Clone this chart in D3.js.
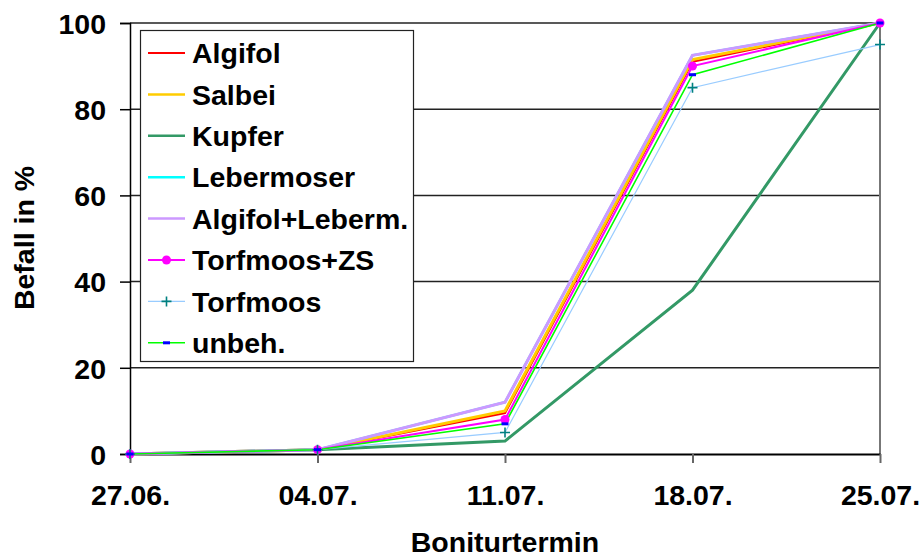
<!DOCTYPE html>
<html>
<head>
<meta charset="utf-8">
<script src="https://cdn.jsdelivr.net/npm/d3@7"></script>
<style>
  body { margin: 0; background: #fff; }
  svg { display: block; font-family: "Liberation Sans", Arial, sans-serif; font-weight: bold; }
</style>
</head>
<body>
<svg id="chart" width="922" height="558"></svg>
<script>
// Boniturtermine (x axis)
const dates = ["27.06.", "04.07.", "11.07.", "18.07.", "25.07."];
const yTicks = [0, 20, 40, 60, 80, 100];

// Befall in % per Variante
const algifol       = [0, 1, 9.5, 91, 100];
const salbei        = [0, 1, 10, 91.5, 100];
const kupfer        = [0, 1, 3, 38, 100];
const lebermoser    = [0, 1, 12, 92.5, 100];
const algifolLeberm = [0, 1, 12, 92.5, 100];
const torfmoosZS    = [0, 1, 8, 90, 100];
const torfmoos      = [0, 1, 5, 85, 95];
const unbeh         = [0, 1, 7, 88, 100];

const series = [
  { name: "Algifol",          values: algifol,       color: "#ff0000", width: 2.2 },
  { name: "Salbei",           values: salbei,        color: "#ffcc00", width: 3 },
  { name: "Kupfer",           values: kupfer,        color: "#339966", width: 3 },
  { name: "Lebermoser",       values: lebermoser,    color: "#00ffff", width: 2.5 },
  { name: "Algifol+Leberm.",  values: algifolLeberm, color: "#cc99ff", width: 3 },
  { name: "Torfmoos+ZS",      values: torfmoosZS,    color: "#ff00ff", width: 2, marker: "circle" },
  { name: "Torfmoos",         values: torfmoos,      color: "#99ccff", width: 1.2, marker: "plus" },
  { name: "unbeh.",           values: unbeh,         color: "#00ff00", width: 1.6, marker: "dash" }
];

const FS = 28.5;
const svg = d3.select("#chart");
const margin = { left: 130, right: 42, top: 23, bottom: 104 };
const W = 922, H = 558;
const x = d3.scalePoint().domain(dates).range([margin.left, W - margin.right]);
const y = d3.scaleLinear().domain([0, 100]).range([H - margin.bottom, margin.top]);

// gridlines
svg.append("g")
  .selectAll("line")
  .data(yTicks.filter(d => d > 0))
  .join("line")
  .attr("x1", margin.left).attr("x2", W - margin.right)
  .attr("y1", d => y(d)).attr("y2", d => y(d))
  .attr("stroke", "#222").attr("stroke-width", 1.5);

// right frame edge
svg.append("line")
  .attr("x1", W - margin.right).attr("x2", W - margin.right)
  .attr("y1", y(100)).attr("y2", y(0))
  .attr("stroke", "#777").attr("stroke-width", 2);

// y axis
const yAxis = d3.axisLeft(y).tickValues(yTicks).tickSize(10).tickPadding(14);
const gy = svg.append("g").attr("transform", `translate(${margin.left},0)`).call(yAxis);
gy.select(".domain").attr("stroke", "#000").attr("stroke-width", 1.5);
gy.selectAll(".tick line").attr("stroke", "#000").attr("stroke-width", 1.5);
gy.selectAll(".tick text").attr("font-size", FS).attr("fill", "#000").attr("dy", "0.36em");

// x axis
const xAxis = d3.axisBottom(x).tickSize(9).tickPadding(22).tickSizeOuter(0);
const gx = svg.append("g").attr("transform", `translate(0,${y(0)})`).call(xAxis);
gx.select(".domain").attr("stroke", "#000").attr("stroke-width", 2);
gx.selectAll(".tick line").attr("stroke", "#666").attr("stroke-width", 2);
gx.selectAll(".tick text").attr("font-size", FS).attr("fill", "#000");

// axis titles
svg.append("text")
  .attr("x", (margin.left + W - margin.right) / 2).attr("y", 552)
  .attr("text-anchor", "middle").attr("font-size", FS).text("Boniturtermin");
svg.append("text")
  .attr("transform", "translate(34,238) rotate(-90)")
  .attr("text-anchor", "middle").attr("font-size", FS).text("Befall in %");

// series lines
const line = d3.line().x((d, i) => x(dates[i])).y(d => y(d));
const plot = svg.append("g");

function drawMarker(g, type, cx, cy) {
  if (type === "circle") {
    g.append("circle").attr("cx", cx).attr("cy", cy).attr("r", 4.5).attr("fill", "#ff00ff");
  } else if (type === "plus") {
    g.append("path").attr("d", `M${cx - 5},${cy}H${cx + 5}M${cx},${cy - 5}V${cy + 5}`)
      .attr("stroke", "#008080").attr("stroke-width", 1.6).attr("fill", "none");
  } else if (type === "dash") {
    g.append("rect").attr("x", cx - 3.5).attr("y", cy - 1.5).attr("width", 7).attr("height", 3)
      .attr("fill", "#0000ff");
  }
}

series.forEach(s => {
  plot.append("path")
    .attr("d", line(s.values))
    .attr("fill", "none")
    .attr("stroke", s.color)
    .attr("stroke-width", s.width)
    .attr("stroke-linejoin", "miter");
});
series.forEach(s => {
  if (!s.marker) return;
  s.values.forEach((v, i) => drawMarker(plot, s.marker, x(dates[i]), y(v)));
});

// legend
const lg = svg.append("g");
lg.append("rect")
  .attr("x", 140.5).attr("y", 30.5).attr("width", 273).attr("height", 331)
  .attr("fill", "#fff").attr("stroke", "#222").attr("stroke-width", 1.2);
series.forEach((s, i) => {
  const cy = 53 + i * 41.4;
  lg.append("line")
    .attr("x1", 148).attr("x2", 185).attr("y1", cy).attr("y2", cy)
    .attr("stroke", s.color).attr("stroke-width", Math.min(s.width, 2.5));
  if (s.marker) drawMarker(lg, s.marker, 166.5, cy);
  lg.append("text")
    .attr("x", 192).attr("y", cy).attr("dy", "0.36em")
    .attr("font-size", FS).text(s.name);
});
</script>
</body>
</html>
